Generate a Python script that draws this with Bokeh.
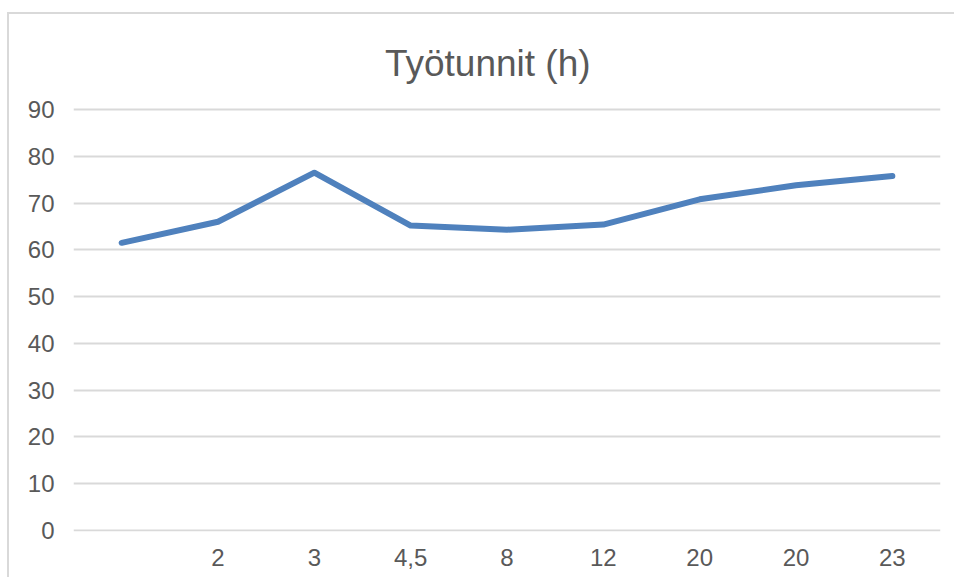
from bokeh.plotting import figure
from bokeh.models import Range1d, FixedTicker
from bokeh.core.properties import value
from bokeh.embed import file_html
from bokeh.resources import INLINE

# Data
title_text = "Työtunnit (h)"
categories = ["", "2", "3", "4,5", "8", "12", "20", "20", "23"]
hours = [61.5, 66.0, 76.5, 65.2, 64.3, 65.4, 70.8, 73.8, 75.8]
y_ticks = [0, 10, 20, 30, 40, 50, 60, 70, 80, 90]

positions = list(range(len(categories)))

# the frame is extended upward so that the chart title sits inside it,
# above the 90 gridline (ticks and gridlines stay at 0..90)
p = figure(
    width=947, height=565,
    output_backend="svg", toolbar_location=None,
    x_range=Range1d(-0.5, len(categories) - 0.5),
    y_range=Range1d(-0.214, 110.31),
    min_border_left=64, min_border_right=16,
    min_border_top=0, min_border_bottom=48,
)
p.styles = {
    "margin-left": "7px",
    "margin-top": "12px",
    "border-top": "2px solid #d9d9d9",
    "border-left": "2px solid #d9d9d9",
}

p.outline_line_color = None
p.background_fill_color = "white"
p.border_fill_color = "white"

# chart title
p.text(x=[3.80], y=[99.8], text=[title_text],
       text_font=value("Liberation Sans"), text_font_size="37px",
       text_color="#595959", text_align="center", text_baseline="alphabetic")

p.line(positions, hours, line_width=6, line_color="#4F81BD",
       line_cap="round", line_join="round")

# x axis
p.xaxis.ticker = FixedTicker(ticks=positions)
p.xaxis.major_label_overrides = {i: c for i, c in zip(positions, categories)}
p.xaxis.axis_line_color = None
p.xaxis.major_tick_line_color = None
p.xaxis.minor_tick_line_color = None
p.xaxis.major_label_text_font = "Liberation Sans"
p.xaxis.major_label_text_font_size = "24px"
p.xaxis.major_label_text_color = "#595959"
p.xaxis.major_label_standoff = 11

# y axis
p.yaxis.ticker = FixedTicker(ticks=y_ticks)
p.yaxis.axis_line_color = None
p.yaxis.major_tick_line_color = None
p.yaxis.minor_tick_line_color = None
p.yaxis.major_label_text_font = "Liberation Sans"
p.yaxis.major_label_text_font_size = "24px"
p.yaxis.major_label_text_color = "#595959"
p.yaxis.major_label_standoff = 13

p.xgrid.grid_line_color = None
p.ygrid.ticker = FixedTicker(ticks=y_ticks)
p.ygrid.grid_line_color = "#d9d9d9"
p.ygrid.grid_line_width = 2

open("out.html", "w").write(file_html(p, INLINE))
